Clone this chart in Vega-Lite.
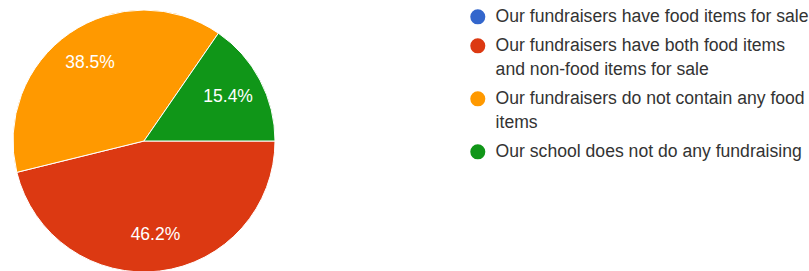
{
  "$schema": "https://vega.github.io/schema/vega-lite/v6.json",
  "width": 288,
  "height": 262,
  "autosize": "none",
  "padding": {"left": 0, "top": 10, "right": 521, "bottom": 0},
  "background": "white",
  "config": {"view": {"stroke": null}, "font": "Liberation Sans", "style": {"guide-label": {"lineHeight": 24}}},
  "data": {
    "values": [
      {"answer": "Our fundraisers have food items for sale", "count": 0, "pct": "0%", "ord": 1},
      {"answer": "Our fundraisers have both food items|and non-food items for sale", "count": 6, "pct": "46.2%", "ord": 2},
      {"answer": "Our fundraisers do not contain any food|items", "count": 5, "pct": "38.5%", "ord": 3},
      {"answer": "Our school does not do any fundraising", "count": 2, "pct": "15.4%", "ord": 4}
    ]
  },
  "encoding": {
    "theta": {"field": "count", "type": "quantitative", "stack": true, "scale": {"range": [1.5707963, 7.8539816]}},
    "order": {"field": "ord", "type": "quantitative"}
  },
  "layer": [
    {
      "mark": {"type": "arc", "outerRadius": 131, "stroke": "white", "strokeWidth": 1},
      "encoding": {
        "color": {
          "field": "answer",
          "type": "nominal",
          "sort": null,
          "scale": {
            "domain": [
              "Our fundraisers have food items for sale",
              "Our fundraisers have both food items|and non-food items for sale",
              "Our fundraisers do not contain any food|items",
              "Our school does not do any fundraising"
            ],
            "range": ["#3366CC", "#DC3912", "#FF9900", "#109618"]
          },
          "legend": {
            "title": null,
            "orient": "none",
            "legendX": 469,
            "legendY": -2,
            "symbolType": "circle",
            "symbolSize": 227,
            "symbolStrokeWidth": 0,
            "labelExpr": "split(datum.label, '|')",
            "labelFont": "Liberation Sans",
            "labelFontSize": 17.6,
            "labelColor": "#333333",
            "labelOffset": 9,
            "labelLimit": 400,
            "rowPadding": 10,
            "encode": {"labels": {"enter": {"lineHeight": {"value": 24}}, "update": {"lineHeight": {"value": 24}}}}
          }
        }
      }
    },
    {
      "transform": [{"filter": "datum.count > 0"}],
      "mark": {"type": "text", "radius": 95, "font": "Liberation Sans", "fontSize": 17.5},
      "encoding": {
        "text": {"field": "pct", "type": "nominal"},
        "color": {"value": "white"}
      }
    }
  ]
}
